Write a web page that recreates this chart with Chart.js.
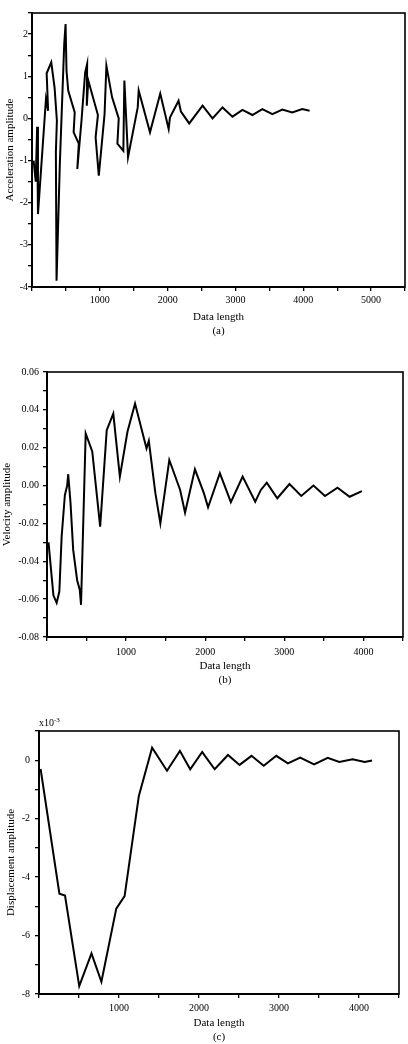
<!DOCTYPE html>
<html>
<head>
<meta charset="utf-8">
<script src="https://cdn.jsdelivr.net/npm/chart.js@4.4.0/dist/chart.umd.min.js"></script>
<style>
  body { margin: 0; background: #fff; }
  .wrap { position: relative; width: 408px; height: 1044px; }
  canvas { position: absolute; left: 0; }
</style>
</head>
<body>
<div class="wrap">
  <canvas id="accChart" width="408" height="345" style="top:0"></canvas>
  <canvas id="velChart" width="408" height="345" style="top:345px"></canvas>
  <canvas id="dispChart" width="408" height="354" style="top:690px"></canvas>
</div>
<script>
// (a) acceleration
const accX = [24, 55, 76, 88, 206, 238, 216, 284, 333, 367, 352, 362, 410, 475, 495, 509, 534, 630, 614, 690,
  668, 730, 784, 813, 808, 830, 972, 938, 985, 1070, 1097, 1181, 1279, 1259, 1347, 1362, 1416, 1559, 1573, 1740,
  1891, 2015, 2034, 2161, 2196, 2318, 2515, 2662, 2809, 2956, 3103, 3250, 3397, 3544, 3691, 3838, 3985, 4093];
const accY = [-1.0, -1.5, -0.2, -2.27, 0.46, 0.18, 1.07, 1.33, 0.73, -0.05, -0.8, -3.85, -1.1, 1.76, 2.24, 1.13, 0.66, 0.14, -0.33, -0.6,
  -1.2, -0.05, 1.09, 1.29, 0.3, 0.9, 0.08, -0.45, -1.36, 0.1, 1.25, 0.5, 0.0, -0.6, -0.77, 0.9, -0.92, 0.26, 0.66, -0.33,
  0.59, -0.25, 0.02, 0.42, 0.16, -0.12, 0.3, 0.0, 0.26, 0.04, 0.2, 0.08, 0.22, 0.1, 0.21, 0.14, 0.22, 0.18];

// (b) velocity
const velX = [19, 81, 122, 156, 185, 226, 255, 268, 297, 331, 381, 414, 430, 489, 572, 672, 755, 838, 921, 1017,
  1113, 1258, 1287, 1370, 1433, 1546, 1683, 1745, 1870, 1983, 2036, 2185, 2324, 2473, 2632, 2703, 2778, 2911, 3065,
  3214, 3368, 3514, 3672, 3826, 3980];
const velY = [-0.030, -0.058, -0.062, -0.056, -0.027, -0.005, 0.000, 0.006, -0.009, -0.034, -0.050, -0.055, -0.063,
  0.0275, 0.018, -0.0217, 0.0293, 0.038, 0.0047, 0.0284, 0.0433, 0.0196, 0.0236, -0.004, -0.020, 0.0135, -0.0023,
  -0.0143, 0.0086, -0.004, -0.0115, 0.0065, -0.0088, 0.0047, -0.0085, -0.0023, 0.0015, -0.0067, 0.0008, -0.0055,
  0.0, -0.0055, -0.0011, -0.0059, -0.0029];

// (c) displacement, in units of 1e-3
const dispX = [20, 255, 325, 503, 656, 780, 966, 1070, 1248, 1414, 1600, 1761, 1890, 2040, 2196, 2362, 2507, 2656,
  2809, 2966, 3111, 3265, 3439, 3609, 3753, 3919, 4072, 4163];
const dispY = [-0.3, -4.57, -4.63, -7.73, -6.61, -7.58, -5.08, -4.65, -1.22, 0.43, -0.36, 0.32, -0.31, 0.28, -0.31,
  0.18, -0.16, 0.15, -0.19, 0.15, -0.11, 0.09, -0.14, 0.08, -0.06, 0.03, -0.06, -0.01];

Chart.defaults.font.family = '"Liberation Serif", "Times New Roman", serif';
Chart.defaults.color = '#000';

const frame = {
  id: 'frame',
  afterDraw(chart) {
    const { ctx, chartArea: a } = chart;
    ctx.save();
    ctx.strokeStyle = '#000';
    ctx.lineWidth = 1.6;
    ctx.strokeRect(a.left, a.top, a.right - a.left, a.bottom - a.top);
    ctx.restore();
  }
};

const expLabel = {
  id: 'expLabel',
  afterDraw(chart) {
    const ctx = chart.ctx;
    const a = chart.chartArea;
    ctx.save();
    ctx.fillStyle = '#000';
    ctx.textBaseline = 'alphabetic';
    ctx.font = '10px "Liberation Serif", serif';
    ctx.fillText('x10', a.left, a.top - 5);
    const w = ctx.measureText('x10').width;
    ctx.font = '7px "Liberation Serif", serif';
    ctx.fillText('-3', a.left + w, a.top - 9);
    ctx.restore();
  }
};

function makeChart(id, xs, ys, o) {
  const tickGrid = { display: true, drawOnChartArea: false, drawTicks: true, tickLength: 4, color: '#000', lineWidth: 1.3 };
  return new Chart(document.getElementById(id), {
    type: 'line',
    data: {
      datasets: [{
        data: xs.map((x, i) => ({ x: x, y: ys[i] })),
        borderColor: '#000',
        borderWidth: 2,
        pointRadius: 0,
        tension: 0,
        fill: false
      }]
    },
    options: {
      responsive: false,
      animation: false,
      devicePixelRatio: 1,
      layout: { padding: { top: o.padTop, right: o.padRight, left: 0, bottom: 0 } },
      plugins: { legend: { display: false }, tooltip: { enabled: false } },
      scales: {
        x: {
          type: 'linear',
          min: 0,
          max: o.xMax,
          afterFit: s => { s.height = o.xH; },
          grid: tickGrid,
          border: { display: true, color: '#000', width: 2 },
          ticks: {
            stepSize: 500,
            autoSkip: false,
            maxRotation: 0,
            padding: o.xTickPad,
            font: { size: 10 },
            callback: v => (v % 1000 === 0 && v !== 0) ? String(v) : ''
          },
          title: {
            display: true,
            text: ['Data length', o.tag],
            font: { size: 11, lineHeight: 1.27 },
            padding: { top: 0, bottom: o.xTitlePad }
          }
        },
        y: {
          min: o.yMin,
          max: o.yMax,
          afterFit: s => { s.width = o.yW; },
          grid: tickGrid,
          border: { display: true, color: '#000', width: 2 },
          ticks: {
            stepSize: o.yStep,
            autoSkip: false,
            padding: o.yTickPad,
            font: { size: 10 },
            callback: o.yFmt
          },
          title: {
            display: true,
            text: o.yTitle,
            font: { size: 11, lineHeight: 1.27 },
            padding: { top: o.yTitlePad, bottom: 0 }
          }
        }
      }
    },
    plugins: o.extra ? [frame, o.extra] : [frame]
  });
}

makeChart('accChart', accX, accY, {
  padTop: 13, padRight: 3, xH: 58, yW: 32, xMax: 5500,
  yMin: -4, yMax: 2.5, yStep: 0.5,
  yFmt: v => Number.isInteger(v) ? String(v) : '',
  xTickPad: 3, xTitlePad: 7, yTickPad: 0, yTitlePad: 3,
  tag: '(a)', yTitle: 'Acceleration amplitude'
});

makeChart('velChart', velX, velY, {
  padTop: 27, padRight: 2, xH: 53, yW: 47, xMax: 4500,
  yMin: -0.08, yMax: 0.06, yStep: 0.01,
  yFmt: v => Math.round(v * 100) % 2 === 0 ? v.toFixed(2) : '',
  xTickPad: 5, xTitlePad: 3, yTickPad: 4, yTitlePad: 0,
  tag: '(b)', yTitle: 'Velocity amplitude'
});

makeChart('dispChart', dispX, dispY, {
  padTop: 41, padRight: 9, xH: 50, yW: 39, xMax: 4500,
  yMin: -8, yMax: 1, yStep: 1,
  yFmt: v => (Math.round(v) % 2 === 0) ? String(Math.round(v)) : '',
  xTickPad: 4, xTitlePad: 0, yTickPad: 5, yTitlePad: 4,
  tag: '(c)', yTitle: 'Displacement amplitude', extra: expLabel
});
</script>
</body>
</html>
